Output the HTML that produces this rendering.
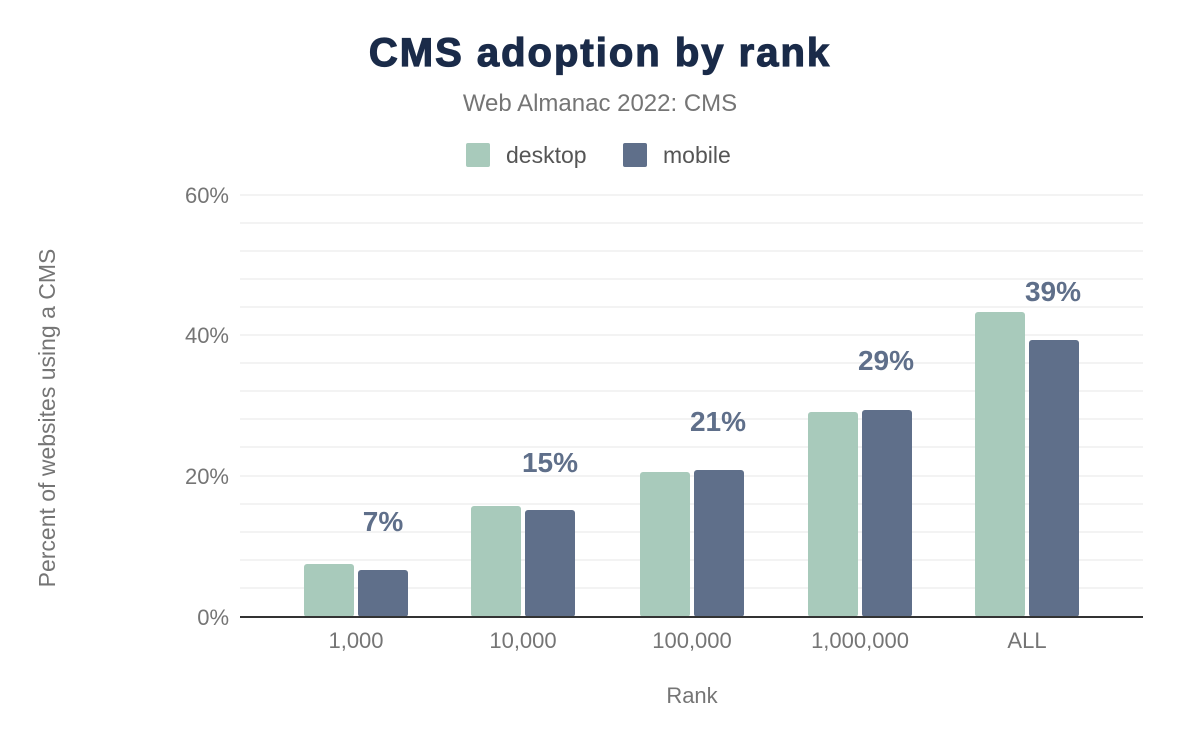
<!DOCTYPE html>
<html><head><style>body{margin:0;background:#fff}</style></head><body>
<svg width="1200" height="742" xmlns="http://www.w3.org/2000/svg" font-family="Liberation Sans, Arial, sans-serif">
<rect width="1200" height="742" fill="#fff"/>
<text x="600" y="66" text-anchor="middle" font-size="40" font-weight="bold" fill="#1a2b49" stroke="#1a2b49" stroke-width="1.2" letter-spacing="2">CMS adoption by rank</text>
<text x="600" y="111" text-anchor="middle" font-size="24" fill="#757575">Web Almanac 2022: CMS</text>
<rect x="466" y="143" width="24" height="24" rx="2" fill="#a8cabb"/>
<text x="506" y="163" font-size="23" fill="#555">desktop</text>
<rect x="623" y="143" width="24" height="24" rx="2" fill="#5f6f8a"/>
<text x="663" y="163" font-size="23" fill="#555">mobile</text>
<g stroke="#efefef" stroke-width="1.5">
<line x1="240" x2="1143" y1="195" y2="195"/><line x1="240" x2="1143" y1="223" y2="223"/><line x1="240" x2="1143" y1="251" y2="251"/><line x1="240" x2="1143" y1="279" y2="279"/><line x1="240" x2="1143" y1="307" y2="307"/><line x1="240" x2="1143" y1="335" y2="335"/><line x1="240" x2="1143" y1="363" y2="363"/><line x1="240" x2="1143" y1="391" y2="391"/><line x1="240" x2="1143" y1="419" y2="419"/><line x1="240" x2="1143" y1="447" y2="447"/><line x1="240" x2="1143" y1="476" y2="476"/><line x1="240" x2="1143" y1="504" y2="504"/><line x1="240" x2="1143" y1="532" y2="532"/><line x1="240" x2="1143" y1="560" y2="560"/><line x1="240" x2="1143" y1="588" y2="588"/>
</g>
<g font-size="22" fill="#757575" text-anchor="end">
<text x="229" y="203">60%</text><text x="229" y="343">40%</text><text x="229" y="484">20%</text><text x="229" y="625">0%</text>
</g>
<g fill="#a8cabb">
<rect x="304" y="564" width="50" height="53" rx="3"/>
<rect x="471" y="506" width="50" height="111" rx="3"/>
<rect x="640" y="472" width="50" height="145" rx="3"/>
<rect x="808" y="412" width="50" height="205" rx="3"/>
<rect x="975" y="312" width="50" height="305" rx="3"/>
</g>
<g fill="#5f6f8a">
<rect x="358" y="570" width="50" height="47" rx="3"/>
<rect x="525" y="510" width="50" height="107" rx="3"/>
<rect x="694" y="470" width="50" height="147" rx="3"/>
<rect x="862" y="410" width="50" height="207" rx="3"/>
<rect x="1029" y="340" width="50" height="277" rx="3"/>
</g>
<line x1="240" x2="1143" y1="617" y2="617" stroke="#333" stroke-width="2"/>
<g font-size="28" font-weight="bold" fill="#5f6f8a" text-anchor="middle">
<text x="383" y="531">7%</text><text x="550" y="472">15%</text><text x="718" y="431">21%</text><text x="886" y="370">29%</text><text x="1053" y="301">39%</text>
</g>
<g font-size="22" fill="#757575" text-anchor="middle">
<text x="356" y="648">1,000</text><text x="523" y="648">10,000</text><text x="692" y="648">100,000</text><text x="860" y="648">1,000,000</text><text x="1027" y="648">ALL</text>
<text x="692" y="703">Rank</text>
<text transform="translate(55,418) rotate(-90)" font-size="23">Percent of websites using a CMS</text>
</g>
</svg>
</body></html>
